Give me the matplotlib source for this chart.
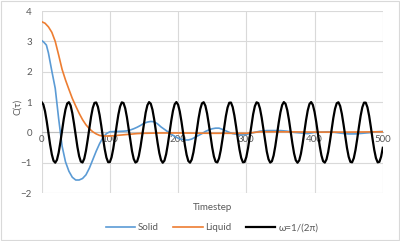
import numpy as np
import matplotlib
matplotlib.use("Agg")
import matplotlib.pyplot as plt

plt.rcParams['font.family'] = ['Lato', 'DejaVu Sans']

# Solid / Liquid
t_solid = [0, 3, 7, 10, 15, 20, 25, 30, 35, 40, 45, 50, 55, 60, 65, 70, 75, 80, 85, 90, 95,
           100, 110, 120, 125, 130, 135, 140, 145, 150, 155, 160, 165, 170, 175, 180, 185,
           190, 195, 200, 205, 210, 215, 220, 225, 230, 235, 240, 245, 250, 255, 260, 265,
           270, 275, 280, 285, 290, 295, 300, 310, 320, 330, 340, 350, 360, 370, 380, 390,
           400, 410, 420, 430, 440, 450, 460, 470, 480, 490, 500]
solid = [3.03, 2.98, 2.88, 2.62, 2.02, 1.45, 0.45, -0.45, -0.97, -1.28, -1.48, -1.57, -1.57,
         -1.52, -1.40, -1.18, -0.90, -0.62, -0.37, -0.17, -0.04, 0.02, 0.03, 0.04, 0.05, 0.08,
         0.12, 0.17, 0.23, 0.30, 0.34, 0.36, 0.35, 0.28, 0.18, 0.10, 0.02, -0.06, -0.13, -0.19,
         -0.23, -0.25, -0.25, -0.22, -0.16, -0.10, -0.04, 0.03, 0.08, 0.12, 0.14, 0.14, 0.10,
         0.05, 0.00, -0.04, -0.06, -0.08, -0.08, -0.07, -0.01, 0.04, 0.06, 0.06, 0.06, 0.04,
         0.00, -0.02, -0.04, 0.00, 0.01, 0.02, 0.00, -0.03, -0.05, -0.05, -0.03, -0.01, 0.02,
         0.03]

t_liquid = [0, 5, 10, 15, 20, 25, 30, 35, 40, 45, 50, 55, 60, 65, 70, 75, 80, 85, 90, 95,
            100, 105, 110, 120, 130, 140, 150, 175, 200, 250, 300, 320, 350, 400, 450, 500]
liquid = [3.65, 3.60, 3.48, 3.30, 3.00, 2.55, 2.08, 1.73, 1.42, 1.12, 0.87, 0.63, 0.42,
          0.25, 0.12, 0.02, -0.05, -0.10, -0.12, -0.12, -0.12, -0.11, -0.10, -0.08, -0.06,
          -0.04, -0.03, -0.02, -0.02, -0.03, -0.03, 0.02, 0.02, 0.01, 0.01, 0.02]

# omega = 1/(2*pi), sampled every 2.5 timesteps
t_omega = np.arange(0, 500.1, 2.5)
omega = [
    1.000, 0.922, 0.700, 0.368, -0.021, -0.406, -0.729, -0.937, -0.999, -0.905,
    -0.669, -0.329, 0.062, 0.444, 0.756, 0.951, 0.997, 0.887, 0.638, 0.290,
    -0.104, -0.481, -0.783, -0.963, -0.992, -0.867, -0.605, -0.250, 0.145, 0.517,
    0.808, 0.973, 0.986, 0.845, 0.572, 0.210, -0.186, -0.552, -0.832, -0.982,
    -0.979, -0.822, -0.538, -0.169, 0.226, 0.586, 0.854, 0.989, 0.969, 0.798,
    0.502, 0.128, -0.267, -0.619, -0.875, -0.994, -0.958, -0.773, -0.466, -0.086,
    0.306, 0.651, 0.894, 0.998, 0.945, 0.745, 0.429, 0.045, -0.346, -0.682,
    -0.912, -1.000, -0.931, -0.717, -0.391, -0.004, 0.384, 0.712, 0.928, 1.000,
    0.915, 0.688, 0.352, -0.038, -0.422, -0.740, -0.943, -0.998, -0.897, -0.657,
    -0.313, 0.079, 0.459, 0.768, 0.956, 0.995, 0.879, 0.625, 0.273, -0.121,
    -0.496, -0.794, -0.967, -0.990, -0.858, -0.592, -0.233, 0.162, 0.532, 0.818,
    0.977, 0.983, 0.836, 0.558, 0.193, -0.203, -0.566, -0.841, -0.985, -0.975,
    -0.812, -0.523, -0.152, 0.243, 0.600, 0.863, 0.991, 0.965, 0.787, 0.487,
    0.111, -0.283, -0.633, -0.883, -0.996, -0.953, -0.762, -0.450, -0.069, 0.323,
    0.664, 0.902, 0.999, 0.940, 0.734, 0.413, 0.028, -0.362, -0.695, -0.919,
    -1.000, -0.925, -0.705, -0.375, 0.014, 0.400, 0.724, 0.935, 0.999, 0.908,
    0.675, 0.336, -0.055, -0.438, -0.752, -0.949, -0.997, -0.890, -0.644, -0.297,
    0.096, 0.475, 0.779, 0.961, 0.993, 0.870, 0.611, 0.257, -0.138, -0.511,
    -0.804, -0.972, -0.987, -0.849, -0.578, -0.217, 0.179, 0.546, 0.828, 0.981,
    0.980, 0.826, 0.543, 0.176, -0.219, -0.580, -0.850, -0.988, -0.971, -0.802,
    -0.508]

x_ticks = [0, 100, 200, 300, 400, 500]
y_ticks = [-2, -1, 0, 1, 2, 3, 4]

fig = plt.figure(figsize=(4.0, 2.41), dpi=100)
ax = fig.add_axes([0.104, 0.199, 0.853, 0.755])

grid_c = '#d9d9d9'
text_c = '#595959'

ax.plot(t_solid, solid, color='#5B9BD5', lw=1.2, label='Solid', zorder=3)
ax.plot(t_liquid, liquid, color='#ED7D31', lw=1.2, label='Liquid', zorder=3)
ax.plot(t_omega, omega, color='black', lw=1.6, label='ω=1/(2π)', zorder=4)

ax.set_xlim(0, 500)
ax.set_ylim(-2, 4)
ax.set_xticks(x_ticks)
ax.set_yticks(y_ticks)
ax.grid(True, color=grid_c, lw=0.8)
ax.set_axisbelow(True)

for s in ['top', 'right', 'left']:
    ax.spines[s].set_visible(False)
ax.spines['bottom'].set_position(('data', 0))
ax.spines['bottom'].set_color('#bfbfbf')
ax.spines['bottom'].set_linewidth(0.8)

ax.tick_params(axis='both', length=0, labelsize=7, labelcolor=text_c)
ax.tick_params(axis='x', pad=2)
ax.tick_params(axis='y', pad=7)

fig.text(0.532, 0.14, 'Timestep', ha='center', va='center', fontsize=7, color=text_c)
fig.text(0.045, 0.555, 'C(τ)', ha='center', va='center', fontsize=7, color=text_c,
         rotation=90)

fig.legend(loc='center', bbox_to_anchor=(0.53, 0.055), ncol=3, frameon=False,
           fontsize=7, handlelength=3.0, handletextpad=0.3, columnspacing=1.5,
           labelcolor=text_c)

# chart border
fig.patches.append(plt.Rectangle((0.002, 0.004), 0.996, 0.992, transform=fig.transFigure,
                                 fill=False, edgecolor='#d9d9d9', lw=0.8))

fig.savefig('out.png', dpi=100)
